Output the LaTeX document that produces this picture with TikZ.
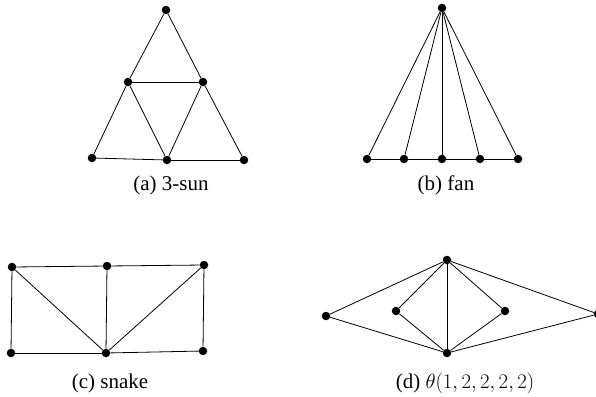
\documentclass[tikz,border=0pt]{standalone}
\usepackage{fontspec}
\setmainfont{Liberation Serif}
\usepackage{tikz}
\usetikzlibrary{positioning}

\begin{document}
\begin{tikzpicture}[
    x=1pt, y=-1pt,
    vtx/.style={circle, fill=black, inner sep=0pt, minimum size=8.5pt},
    edge/.style={line width=0.8pt},
    sub/.style={font=\fontsize{21}{23}\selectfont},
]
\useasboundingbox (0,0) rectangle (596,396);

% --- (a) 3-sun ---
\node[vtx] (st)  at (166,10) {};
\node[vtx] (sml) at (128,82) {};
\node[vtx] (smr) at (203,82) {};
\node[vtx] (sbl) at (92,158) {};
\node[vtx] (sbm) at (167,160) {};
\node[vtx] (sbr) at (244,160) {};
\foreach \a/\b in {st/sml, st/smr, sml/smr, sml/sbl, sml/sbm, smr/sbm, smr/sbr, sbl/sbm, sbm/sbr} {
    \draw[edge] (\a) -- (\b);
}
\node[sub] (capa) at (171,185) {(a) 3-sun};

% --- (b) fan ---
\node[vtx] (ft) at (442,8) {};
\foreach \i/\x in {1/367, 2/404, 3/442, 4/480, 5/518} {
    \node[vtx] (f\i) at (\x,159) {};
    \draw[edge] (ft) -- (f\i);
}
\foreach \a/\b in {1/2, 2/3, 3/4, 4/5} {
    \draw[edge] (f\a) -- (f\b);
}
\node[sub] (capb) at (446,185) {(b) fan};

% --- (c) snake ---
\node[vtx] (ktl) at (12,267) {};
\node[vtx] (ktm) at (107,266) {};
\node[vtx] (ktr) at (204,265) {};
\node[vtx] (kbl) at (11,353) {};
\node[vtx] (kbm) at (106,353) {};
\node[vtx] (kbr) at (203,351) {};
\foreach \a/\b in {ktl/ktm, ktm/ktr, kbl/kbm, kbm/kbr, ktl/kbl, ktm/kbm, ktr/kbr, ktl/kbm, ktr/kbm} {
    \draw[edge] (\a) -- (\b);
}
\node[sub] (capc) at (110,383) {(c) snake};

% --- (d) theta graph ---
\node[vtx] (tt)  at (447,260) {};
\node[vtx] (tb)  at (447,353) {};
\node[vtx] (tl)  at (326,316) {};
\node[vtx] (til) at (396,311) {};
\node[vtx] (tir) at (505,311) {};
\node[vtx] (tr)  at (598,314) {};
\foreach \m in {tl, til, tir, tr} {
    \draw[edge] (tt) -- (\m) -- (tb);
}
\draw[edge] (tt) -- (tb);
\node[sub] (capd) at (465,383) {(d) $\theta(1,2,2,2,2)$};
\end{tikzpicture}
\end{document}
